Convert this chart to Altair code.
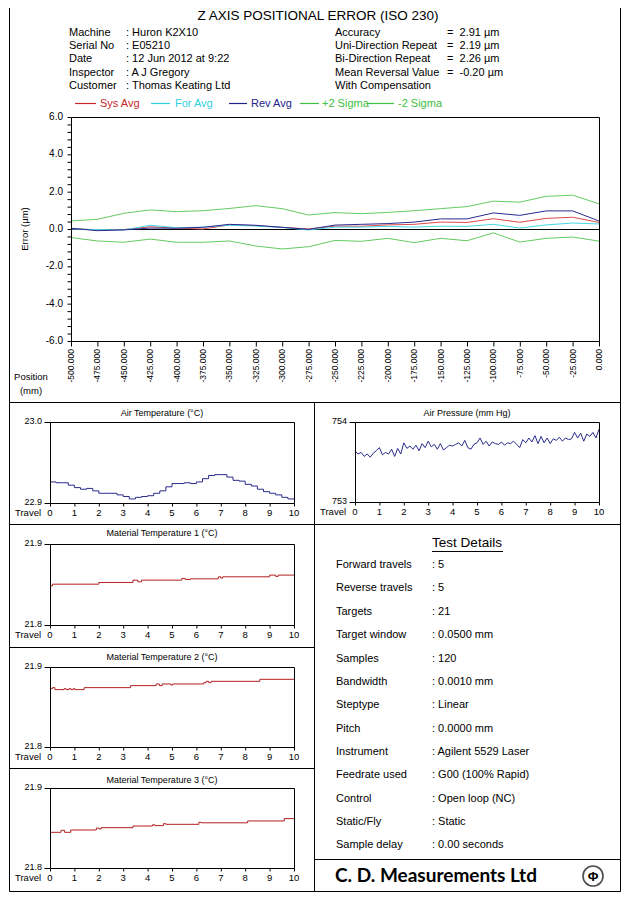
import altair as alt
import pandas as pd

# ---------------- data ----------------
positions = [-500, -475, -450, -425, -400, -375, -350, -325, -300, -275, -250,
             -225, -200, -175, -150, -125, -100, -75, -50, -25, 0]
sys_avg = [0.02, -0.05, -0.03, 0.12, 0.05, 0.00, 0.22, 0.18, 0.09, 0.00, 0.15,
           0.15, 0.22, 0.25, 0.37, 0.35, 0.55, 0.36, 0.57, 0.63, 0.35]
for_avg = [0.00, -0.03, -0.05, 0.20, 0.07, 0.10, 0.20, 0.16, 0.08, -0.05, 0.10,
           0.10, 0.14, 0.10, 0.15, 0.14, 0.25, 0.05, 0.22, 0.32, 0.27]
rev_avg = [0.04, -0.09, -0.05, 0.05, 0.04, 0.09, 0.25, 0.20, 0.09, -0.02, 0.21,
           0.25, 0.29, 0.37, 0.54, 0.54, 0.86, 0.73, 0.97, 0.97, 0.43]
plus_2s = [0.43, 0.52, 0.84, 1.02, 0.93, 0.98, 1.10, 1.25, 1.09, 0.75, 0.88,
           0.82, 0.89, 0.98, 1.09, 1.20, 1.49, 1.44, 1.75, 1.81, 1.35]
minus_2s = [-0.46, -0.64, -0.71, -0.54, -0.71, -0.71, -0.64, -0.91, -1.07, -0.95, -0.61,
            -0.66, -0.50, -0.73, -0.50, -0.63, -0.21, -0.70, -0.50, -0.43, -0.65]
series_names = ["Sys Avg", "For Avg", "Rev Avg", "+2 Sigma", "-2 Sigma"]
series_colors = ["#de4a4a", "#45d8e6", "#2a2a8e", "#62cc62", "#62cc62"]
legend_colors = ["#c82828", "#30d0e0", "#222288", "#40c040", "#40c040"]

error_ticks = [-6.0, -5.6, -5.2, -4.8, -4.4, -4.0, -3.6, -3.2, -2.8, -2.4, -2.0, -1.6, -1.2,
               -0.8, -0.4, 0.0, 0.4, 0.8, 1.2, 1.6, 2.0, 2.4, 2.8, 3.2, 3.6, 4.0, 4.4, 4.8,
               5.2, 5.6, 6.0]
error_labels = [-6.0, -4.0, -2.0, 0.0, 2.0, 4.0, 6.0]
travel_ticks = [0, 1, 2, 3, 4, 5, 6, 7, 8, 9, 10]

air_temp_travel = [0, 0.25, 0.5, 0.75, 1.0, 1.25, 1.5, 1.75, 2.0, 2.25, 2.5, 2.75, 3.0, 3.25,
                   3.5, 3.75, 4.0, 4.25, 4.5, 4.75, 5.0, 5.25, 5.5, 5.75, 6.0, 6.25, 6.5,
                   6.75, 7.0, 7.25, 7.5, 7.75, 8.0, 8.25, 8.5, 8.75, 9.0, 9.25, 9.5, 9.75, 10]
air_temp = [22.926, 22.925, 22.925, 22.922, 22.919, 22.917, 22.918, 22.915, 22.912, 22.912,
            22.912, 22.910, 22.908, 22.905, 22.907, 22.908, 22.909, 22.912, 22.915, 22.920,
            22.924, 22.924, 22.925, 22.924, 22.926, 22.930, 22.934, 22.935, 22.935, 22.932,
            22.928, 22.927, 22.923, 22.921, 22.917, 22.914, 22.912, 22.910, 22.907, 22.905,
            22.905]

air_press_travel = [0, 0.125, 0.25, 0.375, 0.5, 0.625, 0.75, 0.875, 1.0, 1.125, 1.25, 1.375,
                    1.5, 1.625, 1.75, 1.875, 2.0, 2.125, 2.25, 2.375, 2.5, 2.625, 2.75, 2.875,
                    3.0, 3.125, 3.25, 3.375, 3.5, 3.625, 3.75, 3.875, 4.0, 4.125, 4.25, 4.375,
                    4.5, 4.625, 4.75, 4.875, 5.0, 5.125, 5.25, 5.375, 5.5, 5.625, 5.75, 5.875,
                    6.0, 6.125, 6.25, 6.375, 6.5, 6.625, 6.75, 6.875, 7.0, 7.125, 7.25, 7.375,
                    7.5, 7.625, 7.75, 7.875, 8.0, 8.125, 8.25, 8.375, 8.5, 8.625, 8.75, 8.875,
                    9.0, 9.125, 9.25, 9.375, 9.5, 9.625, 9.75, 9.875, 10.0]
air_press = [753.64, 753.60, 753.62, 753.57, 753.60, 753.56, 753.61, 753.64, 753.68, 753.59,
             753.62, 753.60, 753.66, 753.57, 753.67, 753.60, 753.74, 753.67, 753.70, 753.66,
             753.71, 753.64, 753.73, 753.68, 753.76, 753.69, 753.72, 753.66, 753.73, 753.65,
             753.68, 753.71, 753.70, 753.72, 753.74, 753.70, 753.77, 753.68, 753.66, 753.72,
             753.74, 753.80, 753.72, 753.76, 753.70, 753.75, 753.73, 753.72, 753.75, 753.71,
             753.74, 753.73, 753.76, 753.72, 753.68, 753.78, 753.74, 753.80, 753.75, 753.83,
             753.73, 753.82, 753.74, 753.80, 753.73, 753.79, 753.77, 753.81, 753.76, 753.80,
             753.78, 753.79, 753.87, 753.80, 753.86, 753.76, 753.85, 753.82, 753.87, 753.80,
             753.91]

mt1_travel = [0, 0.1, 2.0, 3.4, 3.6, 3.75, 5.4, 5.55, 5.75, 6.9, 7.0, 7.08, 9.0, 9.25, 9.35, 10]
mt1_temp = [21.8483, 21.8504, 21.8525, 21.8554, 21.8533, 21.8554, 21.8575, 21.8562, 21.8570,
            21.8595, 21.8579, 21.8595, 21.8616, 21.8600, 21.8616, 21.8616]

mt2_travel = [0, 0.1, 0.2, 0.58, 0.66, 0.78, 0.86, 0.95, 1.02, 1.4, 3.3, 4.35, 4.48, 4.6,
              4.95, 5.03, 6.3, 6.4, 6.5, 6.6, 8.6, 10]
mt2_temp = [21.8729, 21.8742, 21.8717, 21.8729, 21.8717, 21.8729, 21.8717, 21.8729, 21.8717,
            21.8742, 21.8767, 21.8788, 21.8767, 21.8788, 21.8775, 21.8788, 21.8804, 21.8821,
            21.8804, 21.8821, 21.8846, 21.8846]

mt3_travel = [0, 0.45, 0.6, 0.85, 1.9, 2.0, 2.1, 3.4, 4.2, 4.3, 4.65, 4.75, 6.1, 6.2, 8.1, 9.6, 10]
mt3_temp = [21.8446, 21.8471, 21.8446, 21.8475, 21.8500, 21.8488, 21.8504, 21.8525, 21.8540,
            21.8530, 21.8554, 21.8546, 21.8571, 21.8565, 21.8588, 21.8617, 21.8617]

header_labels = ["Machine", "Serial No", "Date", "Inspector", "Customer"]
header_values = ["Huron K2X10", "E05210", "12 Jun 2012 at 9:22", "A J Gregory", "Thomas Keating Ltd"]
result_labels = ["Accuracy", "Uni-Direction Repeat", "Bi-Direction Repeat",
                 "Mean Reversal Value", "With Compensation"]
result_values = ["2.91 µm", "2.19 µm", "2.26 µm", "-0.20 µm"]

detail_labels = ["Forward travels", "Reverse travels", "Targets", "Target window", "Samples",
                 "Bandwidth", "Steptype", "Pitch", "Instrument", "Feedrate used", "Control",
                 "Static/Fly", "Sample delay"]
detail_values = ["5", "5", "21", "0.0500 mm", "120", "0.0010 mm", "Linear", "0.0000 mm",
                 "Agilent 5529 Laser", "G00 (100% Rapid)", "Open loop (NC)", "Static",
                 "0.00 seconds"]

panel_titles = ["Air Temperature (°C)", "Air Pressure (mm Hg)", "Material Temperature 1 (°C)",
                "Material Temperature 2 (°C)", "Material Temperature 3 (°C)"]

# ---------------- layout (image pixel coords) ----------------
W, H = 615, 888
OX, OY = 8, 8
FONT = "Liberation Sans"


def X(v):
    return v - OX


def Y(v):
    return v - OY


one = pd.DataFrame({"k": [0]})


def texts(rows, size, align="left", color="black", weight="normal", font=FONT, angle=0):
    df = pd.DataFrame(rows)
    df["x"] = df["x"] - OX
    df["y"] = df["y"] - OY
    enc = dict(x=alt.X("x:Q", scale=None, axis=None),
               y=alt.Y("y:Q", scale=None, axis=None),
               text="t:N")
    kw = dict(align=align, baseline="middle", fontSize=size, font=font,
              fontWeight=weight, angle=angle)
    if "c" in df.columns:
        enc["color"] = alt.Color("c:N", scale=None, legend=None)
    else:
        kw["color"] = color
    return alt.Chart(df).mark_text(**kw).encode(**enc)


def rules(rows, color_field=False):
    df = pd.DataFrame(rows)
    for c in ["x1", "x2"]:
        df[c] = df[c] - OX
    for c in ["y1", "y2"]:
        df[c] = df[c] - OY
    enc = dict(x=alt.X("x1:Q", scale=None, axis=None), x2="x2:Q",
               y=alt.Y("y1:Q", scale=None, axis=None), y2="y2:Q")
    if color_field:
        enc["color"] = alt.Color("c:N", scale=None, legend=None)
        return alt.Chart(df).mark_rule(strokeWidth=1.2).encode(**enc)
    return alt.Chart(df).mark_rule(color="black", strokeWidth=1).encode(**enc)


def box_layer(xs, ys, xd, yd):
    return alt.Chart(one).mark_rect(
        fillOpacity=0, stroke="black", strokeWidth=1,
        xOffset=0.5, x2Offset=0.5, yOffset=0.5, y2Offset=0.5
    ).encode(
        x=alt.X(datum=xd[0], scale=xs, axis=None), x2=alt.X2(datum=xd[1]),
        y=alt.Y(datum=yd[0], scale=ys, axis=None), y2=alt.Y2(datum=yd[1]))


def y_ticks(vals, ys, xpix, length):
    df = pd.DataFrame({"v": vals})
    return alt.Chart(df).mark_rule(color="black", strokeWidth=1, yOffset=0.5).encode(
        y=alt.Y("v:Q", scale=ys, axis=None),
        x=alt.value(X(xpix) + 0.5 - length), x2=alt.value(X(xpix) + 0.5))


def x_ticks(vals, xs, ypix, length):
    df = pd.DataFrame({"v": vals})
    return alt.Chart(df).mark_rule(color="black", strokeWidth=1, xOffset=0.5).encode(
        x=alt.X("v:Q", scale=xs, axis=None),
        y=alt.value(Y(ypix) + 0.5), y2=alt.value(Y(ypix) + 0.5 + length))


def y_labels(vals, labels, ys, xpix, size, dy=0):
    df = pd.DataFrame({"v": vals, "t": labels})
    return alt.Chart(df).mark_text(align="right", baseline="middle", fontSize=size,
                                   font=FONT, color="black", dy=dy).encode(
        y=alt.Y("v:Q", scale=ys, axis=None), x=alt.value(X(xpix)), text="t:N")


def x_labels(vals, labels, xs, ypix, size, angle=0, align="center"):
    df = pd.DataFrame({"v": vals, "t": labels})
    return alt.Chart(df).mark_text(align=align, baseline="middle", fontSize=size,
                                   font=FONT, color="black", angle=angle).encode(
        x=alt.X("v:Q", scale=xs, axis=None), y=alt.value(Y(ypix)), text="t:N")


def panel(travel, values, x0, x1, y0, y1, ydom, ylab, color, interp):
    df = pd.DataFrame({"travel": travel, "value": values})
    xs = alt.Scale(domain=[0, 10], range=[X(x0), X(x1)], nice=False, zero=False)
    ys = alt.Scale(domain=ydom, range=[Y(y1), Y(y0)], nice=False, zero=False)
    line = alt.Chart(df).mark_line(color=color, strokeWidth=1, interpolate=interp).encode(
        x=alt.X("travel:Q", scale=xs, axis=None),
        y=alt.Y("value:Q", scale=ys, axis=None))
    return alt.layer(
        line,
        box_layer(xs, ys, [0, 10], ydom),
        y_ticks(ydom, ys, x0, 6),
        y_labels(ydom, ylab, ys, x0 - 8, 9, dy=-1.5),
        x_ticks(travel_ticks, xs, y1, 3),
        x_labels(travel_ticks, [str(t) for t in travel_ticks], xs, y1 + 9.5, 9.5),
    )


layers = []

# frame lines
layers.append(rules([
    dict(x1=9.5, x2=9.5, y1=0, y2=891.5),
    dict(x1=620.5, x2=620.5, y1=0, y2=891.5),
    dict(x1=9.5, x2=620.5, y1=891.5, y2=891.5),
    dict(x1=9.5, x2=620.5, y1=402.5, y2=402.5),
    dict(x1=314.5, x2=314.5, y1=402.5, y2=891.5),
    dict(x1=9.5, x2=620.5, y1=524.5, y2=524.5),
    dict(x1=9.5, x2=314.5, y1=647.5, y2=647.5),
    dict(x1=9.5, x2=314.5, y1=768.5, y2=768.5),
    dict(x1=314.5, x2=620.5, y1=859.5, y2=859.5),
    dict(x1=432, x2=503, y1=551.5, y2=551.5),
]))

# header
layers.append(texts([dict(x=318, y=16, t="Z AXIS POSITIONAL ERROR (ISO 230)")], 13.5, align="center"))
row_y = [32.5, 45.5, 59, 72.5, 86]
layers.append(texts([dict(x=69, y=yy, t=t) for yy, t in zip(row_y, header_labels)], 11))
layers.append(texts([dict(x=126, y=yy, t=": " + t) for yy, t in zip(row_y, header_values)], 11))
layers.append(texts([dict(x=335, y=yy, t=t) for yy, t in zip(row_y, result_labels)], 11))
layers.append(texts([dict(x=447, y=yy, t="=\u00a0\u00a0" + t) for yy, t in zip(row_y, result_values)], 11))

# legend
leg_line_x = [(75, 96), (151, 170), (229, 247), (300, 319), (367, 394)]
leg_text_x = [100, 175, 251, 322, 398]
leg_y = 103.5
layers.append(rules([dict(x1=a, x2=b, y1=leg_y, y2=leg_y, c=c)
                     for (a, b), c in zip(leg_line_x, legend_colors)], color_field=True))
layers.append(texts([dict(x=x, y=leg_y, t=t, c=c)
                     for x, t, c in zip(leg_text_x, series_names, legend_colors)], 11))

# main chart
main_rows = []
for name, vals in zip(series_names, [sys_avg, for_avg, rev_avg, plus_2s, minus_2s]):
    for p, v in zip(positions, vals):
        main_rows.append(dict(position=p, error=v, series=name))
main_df = pd.DataFrame(main_rows)
xs_main = alt.Scale(domain=[-500, 0], range=[X(71), X(599)], nice=False, zero=False)
ys_main = alt.Scale(domain=[-6, 6], range=[Y(341), Y(117)], nice=False, zero=False)
main_lines = alt.Chart(main_df).mark_line(strokeWidth=1).encode(
    x=alt.X("position:Q", scale=xs_main, axis=None),
    y=alt.Y("error:Q", scale=ys_main, axis=None),
    color=alt.Color("series:N", scale=alt.Scale(domain=series_names, range=series_colors),
                    legend=None),
)
zero_line = alt.Chart(one).mark_rule(color="black", strokeWidth=1, yOffset=0.5).encode(
    x=alt.X(datum=-500, scale=xs_main, axis=None), x2=alt.X2(datum=0),
    y=alt.Y(datum=0, scale=ys_main, axis=None))
layers.append(alt.layer(
    zero_line, main_lines, box_layer(xs_main, ys_main, [-500, 0], [-6, 6]),
    y_ticks(error_ticks, ys_main, 71, 4),
    y_labels(error_labels, [f"{v:.1f}" for v in error_labels], ys_main, 63, 10),
    x_ticks(positions, xs_main, 341, 5),
    x_labels(positions, [f"{p:.3f}" for p in positions], xs_main, 349, 8.5,
             angle=270, align="right"),
))

layers.append(texts([dict(x=25, y=229, t="Error (µm)")], 9.5, align="center", angle=270))
layers.append(texts([dict(x=31, y=377, t="Position"), dict(x=31, y=391, t="(mm)")], 9.5, align="center"))

# travel panels
NAVY = "#2b2b8c"
RED = "#b32020"
layers.append(panel(air_temp_travel, air_temp, 50, 294, 422, 503, [22.9, 23.0], ["22.9", "23.0"], NAVY, "step-after"))
layers.append(panel(air_press_travel, air_press, 355, 599, 422, 502, [753, 754], ["753", "754"], NAVY, "linear"))
layers.append(panel(mt1_travel, mt1_temp, 50, 294, 544, 625, [21.8, 21.9], ["21.8", "21.9"], RED, "step-after"))
layers.append(panel(mt2_travel, mt2_temp, 50, 294, 667, 747, [21.8, 21.9], ["21.8", "21.9"], RED, "step-after"))
layers.append(panel(mt3_travel, mt3_temp, 50, 294, 788, 868, [21.8, 21.9], ["21.8", "21.9"], RED, "step-after"))

title_pos = [(162, 413), (467, 413), (162, 533), (162, 657), (162, 780)]
layers.append(texts([dict(x=x, y=y, t=t) for (x, y), t in zip(title_pos, panel_titles)], 9, align="center"))
layers.append(texts([dict(x=15, y=y, t="Travel") for y in [512.5, 634.5, 756.5, 877.5]]
                    + [dict(x=320, y=511.5, t="Travel")], 9.5))

# test details
layers.append(texts([dict(x=467, y=543, t="Test Details")], 13.5, align="center"))
det_y = [565, 588, 612, 635, 659, 682, 705, 729, 752, 775, 799, 822, 845]
layers.append(texts([dict(x=336, y=y, t=t) for y, t in zip(det_y, detail_labels)], 11))
layers.append(texts([dict(x=432, y=y, t=": " + t) for y, t in zip(det_y, detail_values)], 11))

# logo
layers.append(texts([dict(x=335, y=876, t="C. D. Measurements Ltd")], 19, font="Lato", weight="bold"))
layers.append(alt.Chart(one).mark_point(shape="circle", size=400, filled=False, color="black",
                                       strokeWidth=1.6).encode(x=alt.value(X(593)), y=alt.value(Y(876))))
layers.append(texts([dict(x=593, y=876.5, t="Φ")], 13, align="center", weight="bold"))

chart = alt.layer(*layers).resolve_scale(
    x="independent", y="independent", color="independent"
).properties(
    width=W, height=H, padding=0, autosize="none"
).configure_view(stroke=None)

chart.save("out.html", embed_options={"renderer": "svg", "actions": False})
